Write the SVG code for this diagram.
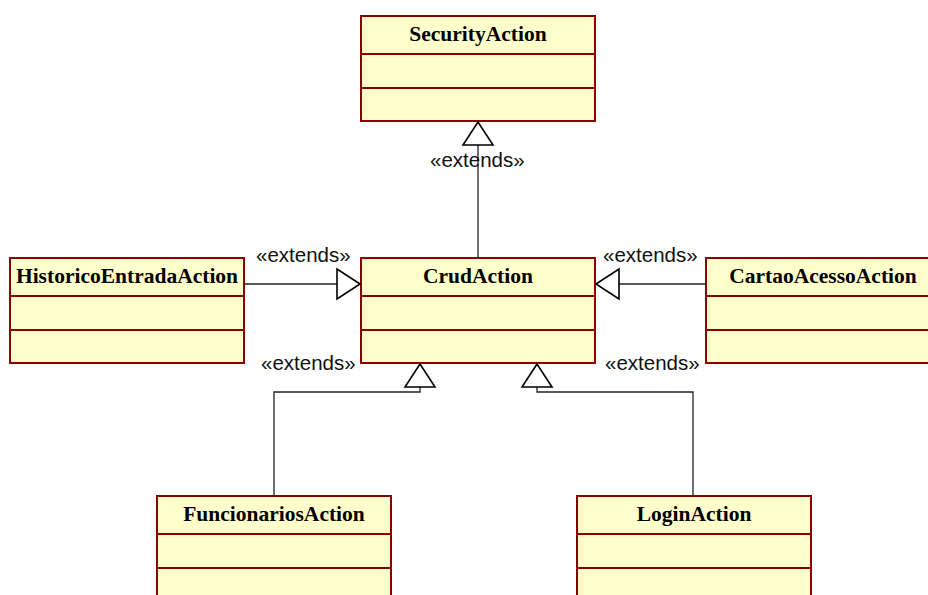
<svg xmlns="http://www.w3.org/2000/svg" width="928" height="595" viewBox="0 0 928 595">
  <defs>
    <style>
      .box { fill: #ffffcc; stroke: #8b0000; stroke-width: 2; }
      .div { stroke: #8b0000; stroke-width: 2; fill: none; }
      .title { font-family: "Liberation Serif", "Times New Roman", serif; font-weight: bold; font-size: 21.5px; fill: #000; text-anchor: middle; }
      .edge { stroke: #222; stroke-width: 1.3; fill: none; }
      .head { stroke: #000; stroke-width: 1.6; fill: #fff; }
      .lbl { font-family: "Liberation Sans", Arial, sans-serif; font-size: 20.5px; fill: #111; }
    </style>
  </defs>
  <rect width="928" height="595" fill="#fff"/>

  <!-- classes -->
  <g id="SecurityAction">
    <rect class="box" x="361" y="16" width="234" height="105"/>
    <line class="div" x1="361" y1="54" x2="595" y2="54"/>
    <line class="div" x1="361" y1="88" x2="595" y2="88"/>
    <text class="title" x="478" y="41">SecurityAction</text>
  </g>
  <g id="CrudAction">
    <rect class="box" x="361" y="258" width="234" height="105"/>
    <line class="div" x1="361" y1="296" x2="595" y2="296"/>
    <line class="div" x1="361" y1="330" x2="595" y2="330"/>
    <text class="title" x="478" y="283">CrudAction</text>
  </g>
  <g id="HistoricoEntradaAction">
    <rect class="box" x="10" y="258" width="234" height="105"/>
    <line class="div" x1="10" y1="296" x2="244" y2="296"/>
    <line class="div" x1="10" y1="330" x2="244" y2="330"/>
    <text class="title" x="127" y="283">HistoricoEntradaAction</text>
  </g>
  <g id="CartaoAcessoAction">
    <rect class="box" x="706" y="258" width="234" height="105"/>
    <line class="div" x1="706" y1="296" x2="940" y2="296"/>
    <line class="div" x1="706" y1="330" x2="940" y2="330"/>
    <text class="title" x="823" y="283">CartaoAcessoAction</text>
  </g>
  <g id="FuncionariosAction">
    <rect class="box" x="157" y="496" width="234" height="105"/>
    <line class="div" x1="157" y1="534" x2="391" y2="534"/>
    <line class="div" x1="157" y1="568" x2="391" y2="568"/>
    <text class="title" x="274" y="521">FuncionariosAction</text>
  </g>
  <g id="LoginAction">
    <rect class="box" x="577" y="496" width="234" height="105"/>
    <line class="div" x1="577" y1="534" x2="811" y2="534"/>
    <line class="div" x1="577" y1="568" x2="811" y2="568"/>
    <text class="title" x="694" y="521">LoginAction</text>
  </g>

  <!-- generalization connectors -->
  <g id="connectors">
    <path class="edge" d="M478 258 V145"/>
    <polygon class="head" points="478,122 463,145 493,145"/>
    <text class="lbl" x="430" y="167">«extends»</text>

    <path class="edge" d="M244 284 H337"/>
    <polygon class="head" points="360,284 337,269 337,299"/>
    <text class="lbl" x="256" y="262">«extends»</text>

    <path class="edge" d="M706 284 H619"/>
    <polygon class="head" points="596,284 619,269 619,299"/>
    <text class="lbl" x="603" y="262">«extends»</text>

    <path class="edge" d="M420 387 V392 H274 V496"/>
    <polygon class="head" points="420,364 405,387 435,387"/>
    <text class="lbl" x="261" y="370">«extends»</text>

    <path class="edge" d="M537 387 V392 H693 V496"/>
    <polygon class="head" points="537,364 522,387 552,387"/>
    <text class="lbl" x="605" y="370">«extends»</text>
  </g>
</svg>
